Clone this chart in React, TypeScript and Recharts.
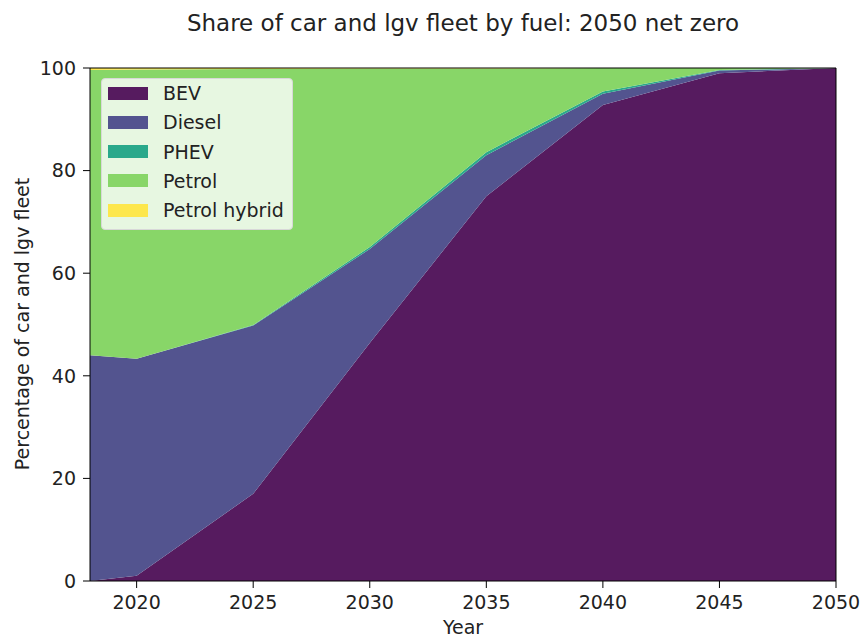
import { AreaChart, Area, XAxis, YAxis, ReferenceLine } from 'recharts';

const years = [2018, 2020, 2025, 2030, 2035, 2040, 2045, 2050];
const bev = [0, 1, 17, 46.4, 75, 92.8, 99, 100];
const diesel = [44, 42.3, 32.8, 18.3, 8, 2.2, 0.5, 0];
const phev = [0, 0, 0.1, 0.4, 0.6, 0.4, 0.1, 0];
const petrolHybrid = [0.4, 0.3, 0.2, 0.1, 0.1, 0, 0, 0];
const petrol = years.map((_, i) => 100 - bev[i] - diesel[i] - phev[i] - petrolHybrid[i]);

const xTicks = [2020, 2025, 2030, 2035, 2040, 2045, 2050];
const yTicks = [0, 20, 40, 60, 80, 100];

const series = [
  { key: 'BEV', color: '#561b5f' },
  { key: 'Diesel', color: '#53548f' },
  { key: 'PHEV', color: '#2aa98b' },
  { key: 'Petrol', color: '#88d668' },
  { key: 'Petrol hybrid', color: '#fde74c' },
];

const data = years.map((year, i) => ({
  year,
  BEV: bev[i],
  Diesel: diesel[i],
  PHEV: phev[i],
  Petrol: petrol[i],
  'Petrol hybrid': petrolHybrid[i],
}));

const font = 'DejaVu Sans, sans-serif';
const tickStyle = { fill: '#222', fontSize: 19, fontFamily: font };

// legend box sits in the upper-left corner of the plot, like matplotlib's "best" spot
function FuelLegend() {
  return (
    <div
      style={{
        position: 'absolute', left: 101, top: 78, width: 192, height: 152,
        background: 'rgba(255,255,255,0.8)', border: '1px solid #d8d8d8', borderRadius: 4,
        boxSizing: 'border-box', fontFamily: font, fontSize: 19, color: '#222',
      }}
    >
      {series.map((s, i) => (
        <div key={s.key} style={{ position: 'absolute', left: 6, top: 1 + i * 29.3, display: 'flex', alignItems: 'center', height: 26 }}>
          <span style={{ width: 40, height: 13, background: s.color, display: 'inline-block', marginRight: 15 }} />
          {s.key}
        </div>
      ))}
    </div>
  );
}

export default function App() {
  return (
    <div style={{ position: 'absolute', left: 0, top: 0, width: 862, height: 638, background: '#fff', fontFamily: font, overflow: 'hidden' }}>
      <div style={{ position: 'absolute', left: 90, width: 746, top: 10, textAlign: 'center', fontSize: 23, color: '#222', whiteSpace: 'nowrap' }}>
        Share of car and lgv fleet by fuel: 2050 net zero
      </div>
      <AreaChart width={862} height={638} data={data} margin={{ top: 68, right: 26, bottom: 0, left: 0 }}>
        <XAxis
          dataKey="year" type="number" domain={[2018, 2050]} ticks={xTicks} allowDataOverflow
          height={57} tickSize={7} tickMargin={8} stroke="#000" tick={tickStyle}
          label={{ value: 'Year', position: 'insideBottom', offset: 4, ...tickStyle }}
        />
        <YAxis domain={[0, 100]} ticks={yTicks} width={90} tickSize={7} tickMargin={7} stroke="#000" tick={tickStyle} />
        {series.map(s => (
          <Area
            key={s.key} type="linear" dataKey={s.key} stackId="fleet" stroke="none"
            fill={s.color} fillOpacity={1} isAnimationActive={false} dot={false} activeDot={false}
          />
        ))}
        {/* top and right spines */}
        <ReferenceLine y={100} stroke="#000" strokeWidth={1} />
        <ReferenceLine x={2050} stroke="#000" strokeWidth={1} />
      </AreaChart>
      <div
        style={{
          position: 'absolute', left: 22, top: 324, transform: 'translate(-50%, -50%) rotate(-90deg)',
          whiteSpace: 'nowrap', fontSize: 19, color: '#222',
        }}
      >
        Percentage of car and lgv fleet
      </div>
      <FuelLegend />
    </div>
  );
}
